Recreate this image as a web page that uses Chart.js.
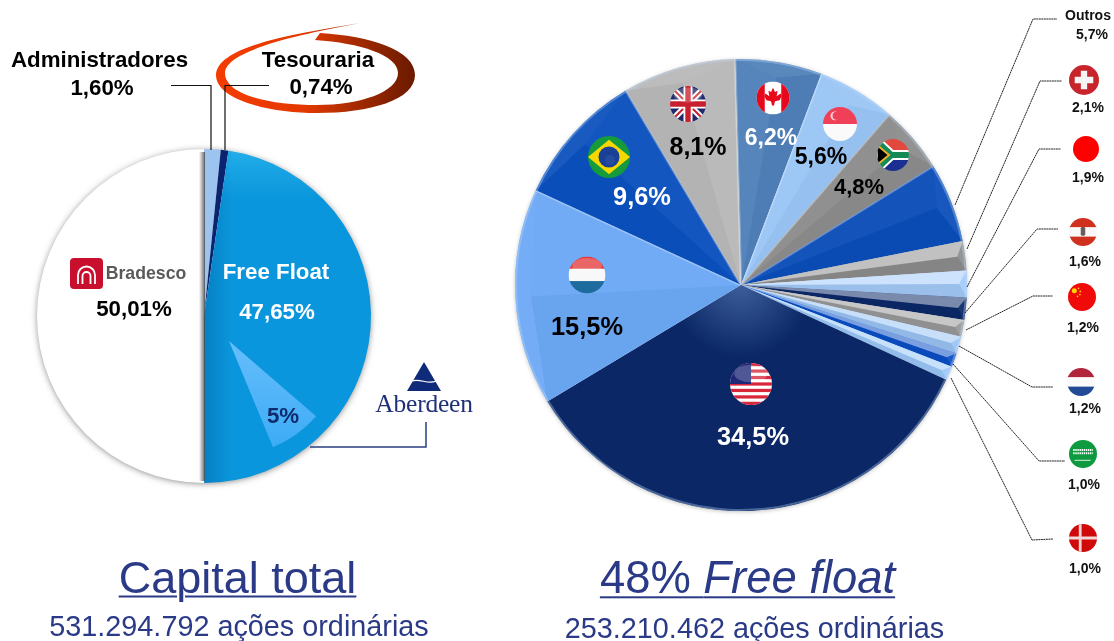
<!DOCTYPE html>
<html lang="pt"><head><meta charset="utf-8">
<script src="https://cdn.jsdelivr.net/npm/chart.js@4"></script>
<style>
html,body{margin:0;padding:0;background:#fff;width:1114px;height:641px;overflow:hidden;font-family:"Liberation Sans",Arial,sans-serif}
canvas{position:absolute}
svg{position:absolute;left:0;top:0}
.t{position:absolute;transform:translate(-50%,-50%);white-space:nowrap;font-weight:700;line-height:1}
</style></head><body>
<canvas id="capital" width="380" height="380" style="left:14px;top:126px"></canvas>
<canvas id="wedge" width="260" height="260" style="left:99px;top:211px"></canvas>
<canvas id="float" width="500" height="500" style="left:491px;top:35px"></canvas>
<svg id="art" width="1114" height="641" viewBox="0 0 1114 641"></svg>
<div id="labels"></div>
<script>
// ---------- data ----------
const capitalLabels = ["Administradores","Tesouraria","Free Float","Bradesco"];
const capitalValues = [1.60,0.74,47.65,50.01];
const capitalColors = ["#9CC4EE","#0A2470","#0A96DC","#FFFFFF"];

const aberdeenLabels = ["Aberdeen",""];
const aberdeenValues = [5,62.4];

const floatLabels = ["Canadá","Singapura","África do Sul","Outros","Suíça","Hong Kong","Áustria","China","Holanda","Arábia Saudita","Dinamarca","EUA","Luxemburgo","Brasil","Reino Unido"];
const floatValues = [6.2,5.6,4.8,5.7,2.1,1.9,1.6,1.2,1.2,1.0,1.0,34.5,15.5,9.6,8.1];
const floatColors = ["#4F81B9","#99C5F5","#8C8C8C","#0A4DB8","#8E8E8E","#A4CBFA","#0C2A6A","#9A9A9A","#9CC5F5","#0B50C8","#9CC8F8","#0B2765","#6CA8F5","#0B50BE","#B8B8B8"];

const pct1 = v => v.toFixed(1).replace(".",",");
const pct2 = v => v.toFixed(2).replace(".",",");

// ---------- bevel / shadow plugins ----------
const shadowPlugin = {
  id:"shadowDisc",
  beforeDatasetsDraw(chart,args,o){
    const a = chart.getDatasetMeta(0).data[0], c = chart.ctx;
    c.save();
    c.shadowColor = o.color; c.shadowBlur = o.blur; c.shadowOffsetX = o.dx; c.shadowOffsetY = o.dy;
    c.fillStyle = "#fff"; c.beginPath(); c.arc(a.x,a.y,a.outerRadius-1,0,Math.PI*2); c.fill();
    c.restore();
  }
};
const bevelPlugin = {
  id:"bevel",
  afterDatasetsDraw(chart){
    const c = chart.ctx, arcs = chart.getDatasetMeta(0).data;
    arcs.forEach((a)=>{
      const s=a.startAngle,e=a.endAngle,R=a.outerRadius,x=a.x,y=a.y,span=e-s,m=(s+e)/2;
      const P=(r,t)=>[x+r*Math.cos(t),y+r*Math.sin(t)];
      const small = span < 0.16;
      const ps=P(R,s),pe=P(R,e),M=P(R*(small?0.965:0.93),m);
      const up = ps[1] < pe[1] ? ps : pe, dn = up===ps ? pe : ps;
      c.save();
      c.beginPath(); c.moveTo(x,y); c.arc(x,y,R,s,e); c.closePath(); c.clip();
      if(span<1.5){
        c.fillStyle = small ? "rgba(255,255,255,.45)" : "rgba(255,255,255,.04)";
        c.beginPath(); c.moveTo(x,y); c.lineTo(...up); c.lineTo(...M); c.closePath(); c.fill();
        c.fillStyle = small ? "rgba(0,0,0,.06)" : "rgba(0,0,0,.025)";
        c.beginPath(); c.moveTo(x,y); c.lineTo(...dn); c.lineTo(...M); c.closePath(); c.fill();
        c.fillStyle = "rgba(255,255,255,.06)";
        c.beginPath(); c.moveTo(...M); c.lineTo(...ps); c.arc(x,y,R,s,e); c.closePath(); c.fill();
        if(!small){
          c.strokeStyle="rgba(255,255,255,.3)"; c.lineWidth=2.5;
          c.beginPath(); c.moveTo(x,y); c.lineTo(...up); c.stroke();
        }
      } else {
        const g=c.createRadialGradient(x,y,0,x,y,R*.32);
        g.addColorStop(0,"rgba(120,160,220,.45)"); g.addColorStop(1,"rgba(120,160,220,0)");
        c.fillStyle=g; c.beginPath(); c.moveTo(x,y); c.arc(x,y,R,s,e); c.closePath(); c.fill();
      }
      // thin bright rim
      c.strokeStyle="rgba(190,220,255,.35)"; c.lineWidth=2;
      c.beginPath(); c.arc(x,y,R-1,s,e); c.stroke();
      c.restore();
    });
  }
};
const seamPlugin = {
  id:"seam",
  afterDatasetsDraw(chart){
    const c=chart.ctx, arcs=chart.getDatasetMeta(0).data, a=arcs[2], R=a.outerRadius, x=a.x, y=a.y;
    c.save();
    c.beginPath(); c.moveTo(x,y); c.arc(x,y,R,a.startAngle,a.endAngle); c.closePath(); c.clip();
    const g=c.createLinearGradient(0,y-R,0,y-R*0.7);
    g.addColorStop(0,"rgba(70,210,250,.4)"); g.addColorStop(1,"rgba(70,210,250,0)");
    c.fillStyle=g; c.fillRect(x-R,y-R,2*R,2*R);
    const h=c.createLinearGradient(x,0,x+28,0);
    h.addColorStop(0,"rgba(0,70,130,.28)"); h.addColorStop(1,"rgba(0,70,130,0)");
    c.fillStyle=h; c.fillRect(x,y-R,28,2*R);
    c.restore();
    c.save();
    const v=c.createLinearGradient(x-5,0,x+1,0);
    v.addColorStop(0,"rgba(90,90,90,0)"); v.addColorStop(.75,"rgba(90,90,90,.7)"); v.addColorStop(1,"rgba(70,70,70,.85)");
    c.fillStyle=v; c.fillRect(x-5,y-R+3,6,2*R-5);
    c.restore();
  }
};

const base = {responsive:false,animation:false,events:[],layout:{padding:0}};
new Chart(document.getElementById("capital"),{
  type:"pie",
  data:{labels:capitalLabels,datasets:[{data:capitalValues,backgroundColor:capitalColors,borderWidth:0}]},
  options:{...base,radius:167,rotation:0,plugins:{legend:{display:false},tooltip:{enabled:false},
    shadowDisc:{color:"rgba(0,0,0,.55)",blur:7,dx:0,dy:1}}},
  plugins:[shadowPlugin,seamPlugin]
});
const wctx=document.getElementById("wedge").getContext("2d");
const wg=wctx.createLinearGradient(0,130,0,245);
wg.addColorStop(0,"#66BEFB"); wg.addColorStop(1,"#3AAAF5");
new Chart(wctx,{
  type:"pie",
  data:{labels:aberdeenLabels,datasets:[{data:aberdeenValues,backgroundColor:[wg,"rgba(0,0,0,0)"],borderWidth:0}]},
  options:{...base,radius:115,rotation:130.8,plugins:{legend:{display:false},tooltip:{enabled:false}}}
});
new Chart(document.getElementById("float"),{
  type:"pie",
  data:{labels:floatLabels,datasets:[{data:floatValues,backgroundColor:floatColors,borderWidth:0}]},
  options:{...base,radius:226,rotation:-1.5,plugins:{legend:{display:false},tooltip:{enabled:false},
    shadowDisc:{color:"rgba(0,0,0,.35)",blur:5,dx:0,dy:1}}},
  plugins:[shadowPlugin,bevelPlugin]
});

// ---------- annotations: leaders, logos, flags ----------
const leaders = [
 [[955,205],[1033,19],[1057,19]],
 [[967,249],[1040,81],[1062,81]],
 [[967,287],[1039,149],[1061,149]],
 [[965,313],[1037,229],[1058,229]],
 [[966,330],[1033,296],[1053,296]],
 [[959,346],[1032,387],[1053,387]],
 [[953,364],[1039,461],[1065,461]],
 [[951,378],[1032,540],[1053,539]]
];
const gloss='<ellipse cx="0" cy="-.5" rx=".8" ry=".42" fill="#fff" opacity=".22"/>';
const R3=(a,b,c)=>`<rect x="-1" y="-1" width="2" height=".68" fill="${a}"/><rect x="-1" y="-.34" width="2" height=".68" fill="${b}"/><rect x="-1" y=".33" width="2" height=".67" fill="${c}"/>`;
const usStripes=[...Array(7)].map((_,i)=>`<rect x="-1" y="${-1+i*2/6.5}" width="2" height=".154" fill="#D8263A"/>`).join("");
const flags = [
 [688,104,18,'<rect x="-1" y="-1" width="2" height="2" fill="#22296A"/><path d="M-1-1L1 1M1-1L-1 1" stroke="#fff" stroke-width=".34"/><path d="M-1-1L1 1M1-1L-1 1" stroke="#C8202F" stroke-width=".11"/><path d="M0-1V1M-1 0H1" stroke="#fff" stroke-width=".5"/><path d="M0-1V1M-1 0H1" stroke="#C8202F" stroke-width=".3"/>'+gloss],
 [773,98,16.5,'<rect x="-1" y="-1" width="2" height="2" fill="#fff"/><rect x="-1" y="-1" width=".5" height="2" fill="#E8081C"/><rect x=".5" y="-1" width=".5" height="2" fill="#E8081C"/><path d="M0-.62L.12-.36L.28-.44L.22-.1L.46-.28L.52-.1L.4.14L.12.2L.06.46H-.06L-.12.2L-.4.14L-.52-.1L-.46-.28L-.22-.1L-.28-.44L-.12-.36Z" fill="#E8081C"/>'],
 [840,124,17,'<rect x="-1" y="-1" width="2" height="1" fill="#F04058"/><rect x="-1" y="0" width="2" height="1" fill="#FAFAFA"/><circle cx="-.3" cy="-.48" r=".26" fill="#fff" opacity=".8"/><circle cx="-.2" cy="-.48" r=".24" fill="#F04058"/>'],
 [893,155,16,'<rect x="-1" y="-1" width="2" height="1" fill="#E2483C"/><rect x="-1" y="0" width="2" height="1" fill="#1A2F90"/><path d="M-1-.85L-.1 0L-1 .85M-.1 0H1" fill="none" stroke="#fff" stroke-width=".62"/><path d="M-1-.85L-.1 0L-1 .85M-.1 0H1" fill="none" stroke="#158A54" stroke-width=".38"/><path d="M-1-.62L-.25 0L-1 .62Z" fill="#000" stroke="#F2B02E" stroke-width=".12"/>'],
 [609,157,21,'<rect x="-1" y="-1" width="2" height="2" fill="#159A3C"/><path d="M-1 0L0-.82L1 0L0 .82Z" fill="#F6D800"/><circle r=".5" fill="#1A3F96"/><circle r=".24" cx=".05" cy=".15" fill="#2F55A8" opacity=".6"/>'],
 [587,275,18.5,R3("#E43A3A","#F8F8F8","#1E6C9E")+gloss],
 [751,384,21,'<rect x="-1" y="-1" width="2" height="2" fill="#fff"/>'+usStripes+'<rect x="-1" y="-1" width="1" height="1" fill="#1E2A78"/>'+gloss],
 [1084,80,15,'<rect x="-1" y="-1" width="2" height="2" fill="#C8242C"/><path d="M0-.62V.62M-.62 0H.62" stroke="#F4F4F4" stroke-width=".42"/>'],
 [1086,149,13,'<rect x="-1" y="-1" width="2" height="2" fill="#FF0000"/>'],
 [1083,232,14,R3("#D0301E","#F8F8F8","#D0301E")+'<rect x="-.16" y="-.36" width=".32" height=".62" rx=".1" fill="#6A5A58"/>'],
 [1082,297,14,'<rect x="-1" y="-1" width="2" height="2" fill="#F00A0A"/><circle cx="-.55" cy="-.45" r=".18" fill="#FFD400"/><circle cx="-.25" cy="-.62" r=".06" fill="#FFD400"/><circle cx="-.12" cy="-.4" r=".06" fill="#FFD400"/><circle cx="-.15" cy="-.18" r=".06" fill="#FFD400"/><circle cx="-.32" cy="-.05" r=".06" fill="#FFD400"/>'],
 [1081,382,14,R3("#B0243C","#FAFAFA","#234A96")],
 [1083,454,14,'<rect x="-1" y="-1" width="2" height="2" fill="#0E9A3E"/><path d="M-.7-.28H.7M-.7-.05H.7" stroke="#fff" stroke-width=".14" stroke-dasharray=".1 .05"/><path d="M-.6.45H.55" stroke="#fff" stroke-width=".06"/>'],
 [1083,538,14,'<rect x="-1" y="-1" width="2" height="2" fill="#D00A0A"/><path d="M-.2-1V1M-1 0H1" stroke="#F2D8D8" stroke-width=".2"/>']
];
let art='<defs><clipPath id="cc"><circle r="1"/></clipPath>'+
 '<linearGradient id="sw" x1="0" x2="1" y1="0" y2="0"><stop offset="0" stop-color="#F53C00"/><stop offset=".45" stop-color="#E33800"/><stop offset=".7" stop-color="#A52A00"/><stop offset="1" stop-color="#6A1A00"/></linearGradient></defs>';
art+='<path d="M360 23C300 33 217 45 216 75C216 100 270 113 317 113C370 113 415 100 415 75C415 50 370 36 320 33L315 40C360 43 398 55 398 73C398 92 360 105 317 105C270 105 225 95 225 73C225 52 290 36 360 23Z" fill="url(#sw)"/>';
art+='<path d="M171 85.5H211V150M269 85.5H225V150" fill="none" stroke="#111" stroke-width="1.2"/>';
art+='<path d="M310 447H426V422" fill="none" stroke="#2A3F80" stroke-width="1.5"/>';
leaders.forEach(l=>{art+=`<polyline points="${l.map(p=>p.join(",")).join(" ")}" fill="none" stroke="#222" stroke-width="1" stroke-dasharray="2 .5"/>`;});
// Bradesco logo
art+='<rect x="70" y="258" width="33" height="31" rx="4" fill="#C8102E"/><path d="M78 284V275A8.5 8.5 0 0 1 95 275V284M82.5 284V276A4 4 0 0 1 90.5 276V284" fill="none" stroke="#fff" stroke-width="1.8"/>';
// Aberdeen logo
art+='<path d="M424 362L441 391H407Z" fill="#0F2A78"/><path d="M412 381C420 378 428 385 436 381" stroke="#fff" stroke-width="1.2" fill="none"/>';
flags.forEach(f=>{art+=`<g transform="translate(${f[0]},${f[1]}) scale(${f[2]})"><g clip-path="url(#cc)">${f[3]}</g></g>`;});
document.getElementById("art").innerHTML=art;

// ---------- text ----------
const texts = [
 ["Administradores",99.5,60,22.3,"#000"],
 [pct2(capitalValues[0])+"%",102,88,22.3,"#000"],
 ["Tesouraria",318,60,22.3,"#000"],
 [pct2(capitalValues[1])+"%",321,87,22.3,"#000"],
 ["Free Float",276,272,22.3,"#fff"],
 [pct2(capitalValues[2])+"%",277,312,22.3,"#fff"],
 [pct2(capitalValues[3])+"%",134,309,22.3,"#000"],
 [aberdeenValues[0]+"%",283,416,22.3,"#0F2A6E"],
 [pct1(floatValues[11])+"%",753,437,25.4,"#fff"],
 [pct1(floatValues[12])+"%",587,327,25.4,"#000"],
 [pct1(floatValues[13])+"%",642,197,25.4,"#fff"],
 [pct1(floatValues[14])+"%",698,146,25,"#000"],
 [pct1(floatValues[0])+"%",771,137,23,"#fff"],
 [pct1(floatValues[1])+"%",821,156,23,"#000"],
 [pct1(floatValues[2])+"%",859,187,22,"#000"],
 ["Outros",1088,15,14,"#111"],
 [pct1(floatValues[3])+"%",1092,34,14,"#111"],
 [pct1(floatValues[4])+"%",1088,107,14,"#111"],
 [pct1(floatValues[5])+"%",1088,177,14,"#111"],
 [pct1(floatValues[6])+"%",1085,261,14,"#111"],
 [pct1(floatValues[7])+"%",1083,327,14,"#111"],
 [pct1(floatValues[8])+"%",1085,408,14,"#111"],
 [pct1(floatValues[9])+"%",1084,484,14,"#111"],
 [pct1(floatValues[10])+"%",1085,568,14,"#111"]
];
let html="";
texts.forEach(t=>{html+=`<div class="t" style="left:${t[1]}px;top:${t[2]}px;font-size:${t[3]}px;color:${t[4]}">${t[0]}</div>`;});
const blue="#2B3A87";
html+=`<div class="t" style="left:145.5px;top:272px;font-size:19px;color:#5A5A5A;transform:translate(-50%,-50%) scaleX(.93)">Bradesco</div>`;
html+=`<div class="t" style="left:424px;top:404px;font-size:25.5px;font-weight:400;color:#1F2F78;font-family:'Liberation Serif',serif;letter-spacing:-.2px">Aberdeen</div>`;
html+=`<div class="t" style="left:237.5px;top:577px;font-size:45px;font-weight:400;color:${blue};text-decoration:underline;text-decoration-thickness:2px;text-underline-offset:3px">Capital total</div>`;
html+=`<div class="t" style="left:747.5px;top:578px;font-size:45.4px;font-weight:400;color:${blue};text-decoration:underline;text-decoration-thickness:2px;text-underline-offset:3px">48% <i>Free float</i></div>`;
html+=`<div class="t" style="left:239px;top:626px;font-size:28.8px;font-weight:400;color:${blue}">531.294.792 ações ordinárias</div>`;
html+=`<div class="t" style="left:754.5px;top:628px;font-size:28.8px;font-weight:400;color:${blue}">253.210.462 ações ordinárias</div>`;
document.getElementById("labels").innerHTML=html;
</script>
</body></html>
